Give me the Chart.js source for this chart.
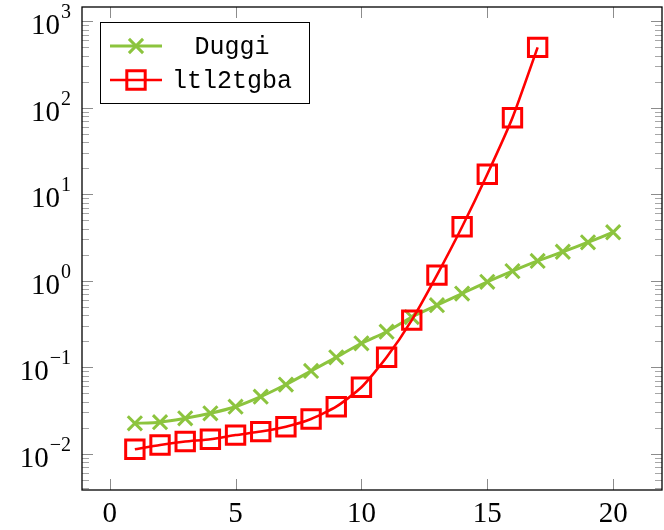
<!DOCTYPE html>
<html>
<head>
<meta charset="utf-8">
<script src="https://cdn.jsdelivr.net/npm/chart.js@4.4.1/dist/chart.umd.min.js"></script>
<style>
  html, body { margin: 0; padding: 0; background: #fff; }
  #wrap { width: 664px; height: 530px; }
</style>
</head>
<body>
<div id="wrap"><canvas id="runtimeChart"></canvas></div>
<script>
const xValues = [1, 2, 3, 4, 5, 6, 7, 8, 9, 10, 11, 12, 13, 14, 15, 16, 17, 18, 19, 20];
const dugginTimes = [0.0224, 0.0231, 0.0256, 0.0293, 0.0349, 0.0456, 0.063, 0.0904, 0.130, 0.189,
    0.257, 0.38, 0.52, 0.71, 0.97, 1.29, 1.69, 2.16, 2.78, 3.63];
const ltlTimes = [0.01125, 0.0126, 0.0138, 0.0147, 0.0164, 0.0180, 0.0205, 0.0252, 0.0349, 0.0586,
    0.130, 0.35, 1.16, 4.2, 17.0, 76.5, 499];
const xTicks = [0, 5, 10, 15, 20];
const yDecades = [-2, -1, 0, 1, 2, 3];
const seriesNames = ['Duggi', 'ltl2tgba'];

const GREEN = 'rgb(140, 196, 62)';
const RED = 'rgb(255, 0, 0)';
const SERIF = '"Liberation Serif", "DejaVu Serif", serif';

function toPoints(ys) {
    return ys.map((y, i) => ({ x: xValues[i], y: y }));
}

// axis frame, inside ticks and TeX-like labels
const framePlugin = {
    id: 'frame',
    afterDatasetsDraw(chart) {
        const ctx = chart.ctx;
        const a = chart.chartArea;
        const xs = chart.scales.x;
        const ys = chart.scales.y;
        ctx.save();

        ctx.strokeStyle = 'rgba(0,0,0,0.45)';
        ctx.lineWidth = 1;
        ctx.beginPath();
        xTicks.forEach(t => {
            const px = Math.round(xs.getPixelForValue(t)) + 0.5;
            ctx.moveTo(px, a.bottom); ctx.lineTo(px, a.bottom - 11);
            ctx.moveTo(px, a.top); ctx.lineTo(px, a.top + 11);
        });
        yDecades.forEach(d => {
            const py = Math.round(ys.getPixelForValue(Math.pow(10, d))) + 0.5;
            ctx.moveTo(a.left, py); ctx.lineTo(a.left + 11, py);
            ctx.moveTo(a.right, py); ctx.lineTo(a.right - 11, py);
        });
        ctx.stroke();

        ctx.strokeStyle = 'rgba(0,0,0,0.35)';
        ctx.beginPath();
        for (let d = -3; d <= 3; d++) {
            for (let m = 2; m <= 9; m++) {
                const v = m * Math.pow(10, d);
                if (v < ys.min || v > ys.max) continue;
                const py = Math.round(ys.getPixelForValue(v)) + 0.5;
                ctx.moveTo(a.left, py); ctx.lineTo(a.left + 7, py);
                ctx.moveTo(a.right, py); ctx.lineTo(a.right - 7, py);
            }
        }
        ctx.stroke();

        ctx.strokeStyle = '#000';
        ctx.lineWidth = 1.3;
        ctx.strokeRect(a.left, a.top, a.right - a.left, a.bottom - a.top);

        ctx.fillStyle = '#000';
        ctx.font = '29px ' + SERIF;
        ctx.textAlign = 'center';
        ctx.textBaseline = 'alphabetic';
        xTicks.forEach(t => {
            ctx.fillText(String(t), xs.getPixelForValue(t), a.bottom + 32);
        });

        yDecades.forEach(d => {
            const py = ys.getPixelForValue(Math.pow(10, d));
            const exp = d < 0 ? '\u2212' + Math.abs(d) : String(d);
            ctx.font = '20px ' + SERIF;
            const ew = ctx.measureText(exp).width;
            ctx.textAlign = 'right';
            ctx.fillText(exp, 71, py - 3);
            ctx.font = '29px ' + SERIF;
            ctx.fillText('10', 71 - ew - 1, py + 13);
        });

        // legend box
        const lx = 100, ly = 22, lw = 209, lh = 81;
        ctx.fillStyle = '#fff';
        ctx.fillRect(lx, ly, lw, lh);
        ctx.strokeStyle = '#000';
        ctx.lineWidth = 1;
        ctx.strokeRect(lx + 0.5, ly + 0.5, lw, lh);
        chart.data.datasets.forEach(ds => {
            const idx = seriesNames.indexOf(ds.label);
            const rowY = 46 + idx * 34;
            ctx.strokeStyle = ds.borderColor;
            ctx.lineWidth = ds.borderWidth;
            ctx.beginPath();
            ctx.moveTo(110, rowY); ctx.lineTo(162, rowY);
            ctx.stroke();
            ctx.lineWidth = ds.pointBorderWidth;
            ctx.fillStyle = 'rgba(0,0,0,0)';
            Chart.helpers.drawPoint(ctx, {
                pointStyle: ds.pointStyle, radius: ds.pointRadius, borderWidth: ds.pointBorderWidth
            }, 136, rowY);
            ctx.fillStyle = '#000';
            ctx.font = '25px "Liberation Mono", "DejaVu Sans Mono", monospace';
            ctx.textAlign = 'center';
            ctx.textBaseline = 'middle';
            ctx.fillText(ds.label, 232, rowY + 1);
        });
        ctx.restore();
    }
};

const runtimeConfig = {
    type: 'line',
    data: {
        datasets: [
            {
                label: seriesNames[0],
                data: toPoints(dugginTimes),
                borderColor: GREEN,
                backgroundColor: GREEN,
                borderWidth: 3,
                pointStyle: 'crossRot',
                pointRadius: 10,
                pointBorderWidth: 3,
                pointBorderColor: GREEN,
                tension: 0.2,
                order: 1,
            },
            {
                label: seriesNames[1],
                data: toPoints(ltlTimes),
                borderColor: RED,
                backgroundColor: 'rgba(0,0,0,0)',
                borderWidth: 2.6,
                pointStyle: 'rect',
                pointRadius: 13,
                pointBorderWidth: 3,
                pointBorderColor: RED,
                tension: 0.2,
                order: 0,
            },
        ],
    },
    options: {
        responsive: false,
        animation: false,
        devicePixelRatio: 1,
        layout: { autoPadding: false, padding: { left: 82, right: 2, top: 7, bottom: 40 } },
        plugins: {
            legend: { display: false },
            tooltip: { enabled: false },
        },
        scales: {
            x: { type: 'linear', min: -1.1, max: 21.94, display: false },
            y: { type: 'logarithmic', min: 0.0038, max: 1460, display: false },
        },
    },
    plugins: [framePlugin],
};

const canvas = document.getElementById('runtimeChart');
canvas.width = 664;
canvas.height = 530;
const runtimeChart = new Chart(canvas, runtimeConfig);
</script>
</body>
</html>
